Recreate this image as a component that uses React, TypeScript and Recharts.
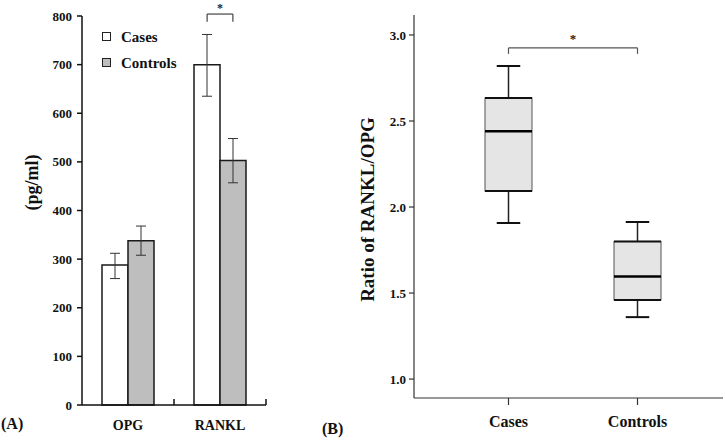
import React from "react";
import { BarChart, Bar, XAxis, YAxis, ErrorBar, ReferenceLine, ComposedChart, Label } from "recharts";

const FONT = '"Liberation Serif", "Times New Roman", serif';

// panel A: mean concentration (pg/ml) with error bars
const markers = ["OPG", "RANKL"];
const seriesNames = ["Cases", "Controls"];
const seriesFills = ["#ffffff", "#bebebe"];
const casesMean = [288, 700];
const casesErr = [[28, 24], [65, 62]];
const controlsMean = [338, 503];
const controlsErr = [[30, 30], [46, 45]];
const concTicks = [0, 100, 200, 300, 400, 500, 600, 700, 800];

// significance bracket over RANKL, on a hidden 0..2 axis (one unit per category)
const barSigX = [1.36, 1.64];
const barSigY = [804, 788];

// panel B: box plot of RANKL/OPG ratio
const groups = ["Cases", "Controls"];
const whiskerLow = [1.907, 1.36];
const quart1 = [2.093, 1.46];
const medians = [2.44, 1.596];
const quart3 = [2.634, 1.8];
const whiskerHigh = [2.82, 1.913];
const ratioTicks = [1.0, 1.5, 2.0, 2.5, 3.0];
const ratioDomain = [0.89, 3.116];
const boxSigY = [2.925, 2.89];

const barData = markers.map((m, i) => ({
  marker: m,
  pos: i + 0.5,
  cases: casesMean[i],
  casesErr: casesErr[i],
  controls: controlsMean[i],
  controlsErr: controlsErr[i],
}));

const boxData = groups.map((g, i) => ({
  group: g,
  min: whiskerLow[i],
  q1: quart1[i],
  median: medians[i],
  q3: quart3[i],
  max: whiskerHigh[i],
}));

const tickStyle = { fontFamily: FONT, fontWeight: 700, fill: "#111" };

function VLabel({ viewBox, value, dx, dy, size }: any) {
  const cx = viewBox.x + dx;
  const cy = viewBox.y + viewBox.height / 2 + dy;
  return (
    <text
      x={cx}
      y={cy}
      transform={`rotate(-90 ${cx} ${cy})`}
      textAnchor="middle"
      dominantBaseline="central"
      style={{ ...tickStyle, fontSize: size }}
    >
      {value}
    </text>
  );
}

function Star({ viewBox, up, size }: any) {
  return (
    <text
      x={viewBox.x + viewBox.width / 2}
      y={viewBox.y - up}
      textAnchor="middle"
      style={{ fontFamily: FONT, fontSize: size, fontWeight: 700, fill: "#222" }}
    >
      *
    </text>
  );
}

// category label plus the small upward tick at the right edge of each band
function MarkerTick(props: any) {
  const { x, y, payload } = props;
  const half = payload.offset ?? 46;
  return (
    <g>
      <line x1={x + half} x2={x + half} y1={y} y2={y - 6} stroke="#111" strokeWidth={1.5} />
      <text x={x} y={y + 25} textAnchor="middle" style={{ ...tickStyle, fontSize: 14 }}>
        {payload.value}
      </text>
    </g>
  );
}

function BoxShape(props: any) {
  const { x, y, width, height, payload } = props;
  const top = Math.min(y, y + height);
  const h = Math.abs(height);
  const span = payload.max - payload.min;
  const py = (v: number) => top + ((payload.max - v) / span) * h;
  const cx = x + width / 2;
  const cap = width * 0.25;
  return (
    <g>
      <line x1={cx} x2={cx} y1={py(payload.max)} y2={py(payload.q3)} stroke="#222" strokeWidth={1.5} />
      <line x1={cx} x2={cx} y1={py(payload.q1)} y2={py(payload.min)} stroke="#222" strokeWidth={1.5} />
      <line x1={cx - cap} x2={cx + cap} y1={py(payload.max)} y2={py(payload.max)} stroke="#111" strokeWidth={2} />
      <line x1={cx - cap} x2={cx + cap} y1={py(payload.min)} y2={py(payload.min)} stroke="#111" strokeWidth={2} />
      <rect
        x={x}
        y={py(payload.q3)}
        width={width}
        height={py(payload.q1) - py(payload.q3)}
        fill="#e5e5e5"
        stroke="#555"
        strokeWidth={1}
      />
      <line x1={x} x2={x + width} y1={py(payload.q3)} y2={py(payload.q3)} stroke="#111" strokeWidth={2} />
      <line x1={x} x2={x + width} y1={py(payload.q1)} y2={py(payload.q1)} stroke="#111" strokeWidth={2} />
      <line x1={x} x2={x + width} y1={py(payload.median)} y2={py(payload.median)} stroke="#000" strokeWidth={2.5} />
    </g>
  );
}

const textDiv = (size: number): React.CSSProperties => ({
  position: "absolute",
  fontFamily: FONT,
  fontWeight: 700,
  fontSize: size,
  lineHeight: `${size}px`,
  color: "#111",
  whiteSpace: "nowrap",
});

export default function App() {
  return (
    <div style={{ position: "absolute", left: 0, top: 0, width: 725, height: 442, background: "#fff" }}>
      {/* Panel A */}
      <div style={{ position: "absolute", left: 0, top: 0 }}>
        <BarChart
          width={280}
          height={442}
          data={barData}
          margin={{ top: 16, right: 14, left: 12, bottom: 7 }}
          barCategoryGap={20}
          barGap={0}
        >
          <XAxis
            dataKey="marker"
            height={30}
            axisLine={{ stroke: "#111", strokeWidth: 1.5 }}
            tickLine={false}
            tickSize={0}
            tickMargin={0}
            tick={<MarkerTick />}
            interval={0}
          />
          <XAxis xAxisId="num" dataKey="pos" type="number" domain={[0, 2]} allowDataOverflow hide />
          <YAxis
            width={70}
            domain={[0, 800]}
            ticks={concTicks}
            interval={0}
            axisLine={{ stroke: "#111", strokeWidth: 1.5 }}
            tickLine={{ stroke: "#111", strokeWidth: 1.5 }}
            tickSize={5}
            tickMargin={5}
            tick={{ ...tickStyle, fontSize: 13 }}
          >
            <Label content={<VLabel dx={20} dy={-28} size={18} />} value="(pg/ml)" />
          </YAxis>
          <Bar dataKey="cases" name={seriesNames[0]} fill={seriesFills[0]} stroke="#1a1a1a" strokeWidth={1.5} isAnimationActive={false}>
            <ErrorBar dataKey="casesErr" width={5} stroke="#333" strokeWidth={1} isAnimationActive={false} />
          </Bar>
          <Bar dataKey="controls" name={seriesNames[1]} fill={seriesFills[1]} stroke="#1a1a1a" strokeWidth={1.5} isAnimationActive={false}>
            <ErrorBar dataKey="controlsErr" width={5} stroke="#333" strokeWidth={1} isAnimationActive={false} />
          </Bar>
          <ReferenceLine
            xAxisId="num"
            ifOverflow="visible"
            segment={[{ x: barSigX[0], y: barSigY[0] }, { x: barSigX[1], y: barSigY[0] }]}
            stroke="#444"
            strokeWidth={1.2}
            label={<Star up={2} size={12} />}
          />
          <ReferenceLine
            xAxisId="num"
            ifOverflow="visible"
            segment={[{ x: barSigX[0], y: barSigY[0] }, { x: barSigX[0], y: barSigY[1] }]}
            stroke="#444"
            strokeWidth={1.2}
          />
          <ReferenceLine
            xAxisId="num"
            ifOverflow="visible"
            segment={[{ x: barSigX[1], y: barSigY[0] }, { x: barSigX[1], y: barSigY[1] }]}
            stroke="#444"
            strokeWidth={1.2}
          />
        </BarChart>
      </div>

      {/* Legend for panel A */}
      {seriesNames.map((name, i) => (
        <React.Fragment key={name}>
          <div
            style={{
              position: "absolute",
              left: 102,
              top: 32 + i * 26,
              width: 7,
              height: 7,
              border: "1.5px solid #222",
              background: seriesFills[i],
            }}
          />
          <div style={{ ...textDiv(15), left: 121, top: 29.5 + i * 26 }}>{name}</div>
        </React.Fragment>
      ))}

      <div style={{ ...textDiv(16), left: 1, top: 415.5 }}>(A)</div>

      {/* Panel B */}
      <div style={{ position: "absolute", left: 250, top: 0 }}>
        <ComposedChart width={475} height={442} data={boxData} margin={{ top: 15, right: 2, left: 100, bottom: 4 }}>
          <XAxis
            dataKey="group"
            height={40}
            padding={{ left: 30, right: 21 }}
            axisLine={{ stroke: "#333", strokeWidth: 1.2 }}
            tickLine={{ stroke: "#333", strokeWidth: 1.2 }}
            tickSize={7}
            tickMargin={11}
            tick={{ ...tickStyle, fontSize: 16 }}
            interval={0}
          />
          <XAxis xAxisId="top" dataKey="group" orientation="top" height={0} tick={false} tickLine={false} axisLine={{ stroke: "#333", strokeWidth: 1.2 }} />
          <YAxis
            width={64}
            domain={ratioDomain}
            ticks={ratioTicks}
            interval={0}
            allowDataOverflow
            tickFormatter={(v: number) => v.toFixed(1)}
            axisLine={{ stroke: "#333", strokeWidth: 1.2 }}
            tickLine={{ stroke: "#333", strokeWidth: 1.2 }}
            tickSize={5}
            tickMargin={3}
            tick={{ ...tickStyle, fontSize: 13 }}
          >
            <Label content={<VLabel dx={17} dy={3} size={19} />} value="Ratio of RANKL/OPG" />
          </YAxis>
          <YAxis yAxisId="r" orientation="right" width={0} tick={false} tickLine={false} axisLine={{ stroke: "#333", strokeWidth: 1.2 }} />
          <Bar dataKey={(d: any) => [d.min, d.max]} barSize={47} shape={<BoxShape />} isAnimationActive={false} />
          <ReferenceLine
            ifOverflow="visible"
            segment={[{ x: groups[0], y: boxSigY[0] }, { x: groups[1], y: boxSigY[0] }]}
            stroke="#555"
            strokeWidth={1.2}
            label={<Star up={5} size={13} />}
          />
          <ReferenceLine
            ifOverflow="visible"
            segment={[{ x: groups[0], y: boxSigY[0] }, { x: groups[0], y: boxSigY[1] }]}
            stroke="#555"
            strokeWidth={1.2}
          />
          <ReferenceLine
            ifOverflow="visible"
            segment={[{ x: groups[1], y: boxSigY[0] }, { x: groups[1], y: boxSigY[1] }]}
            stroke="#555"
            strokeWidth={1.2}
          />
        </ComposedChart>
      </div>

      <div style={{ ...textDiv(16), left: 322, top: 420.5 }}>(B)</div>
    </div>
  );
}
